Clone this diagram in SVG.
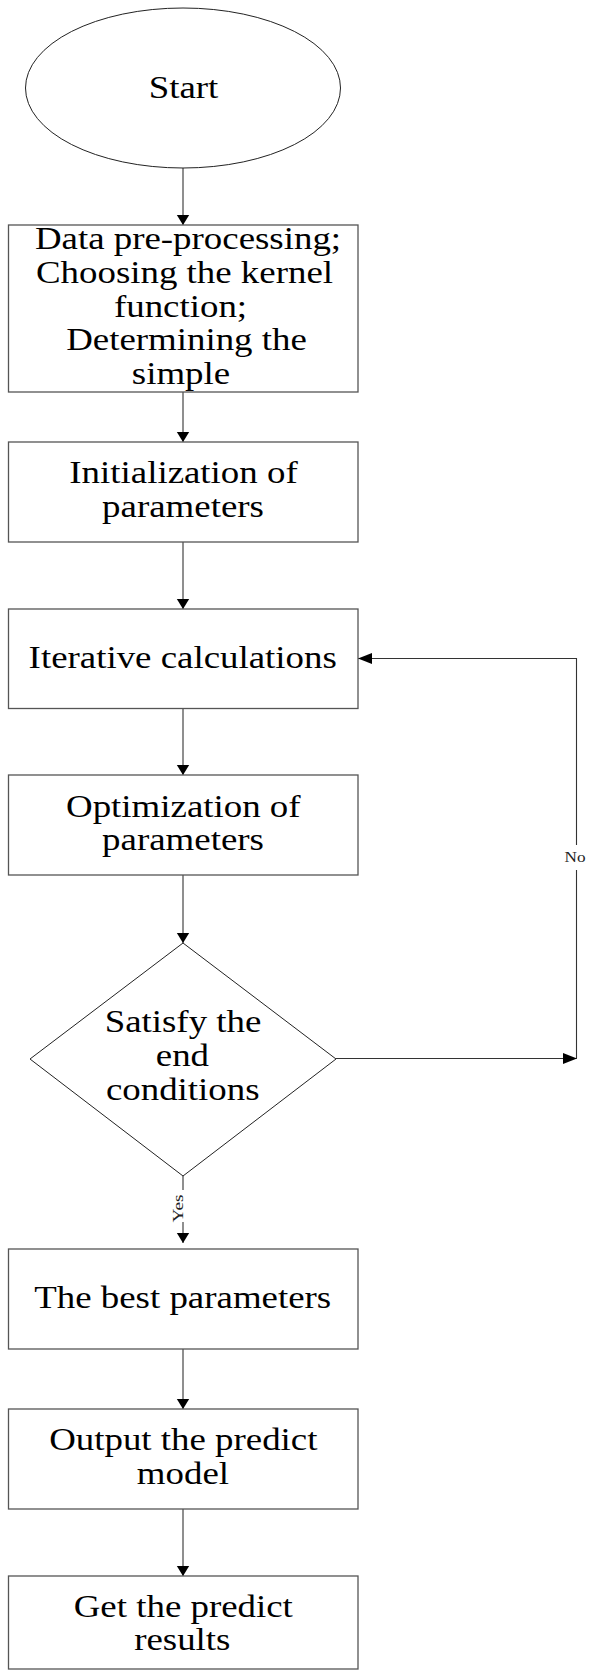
<svg xmlns="http://www.w3.org/2000/svg" width="590" height="1671" viewBox="0 0 590 1671">
<style>
.box{fill:#fff;stroke:#555;stroke-width:1.3}
.shape{fill:#fff;stroke:#222;stroke-width:1}
.t{font-family:"Liberation Serif","Times New Roman",serif;font-size:31px;fill:#000;text-anchor:middle}
.lbl{font-family:"Liberation Serif","Times New Roman",serif;font-size:15px;fill:#222;text-anchor:middle}
.c{fill:none;stroke:#333;stroke-width:1.1}
</style>
<defs>
<marker id="av" markerUnits="userSpaceOnUse" markerWidth="12" markerHeight="14" refX="10.5" refY="6.5" orient="auto">
<path d="M0,0 L10.5,6.5 L0,13 z" fill="#000"/>
</marker>
<marker id="ah" markerUnits="userSpaceOnUse" markerWidth="15" markerHeight="12" refX="14" refY="5.5" orient="auto">
<path d="M0,0 L14,5.5 L0,11 z" fill="#000"/>
</marker>
</defs>
<rect width="590" height="1671" fill="#fff"/>

<g id="connectors">
<path class="c" d="M183 168 V225" marker-end="url(#av)"/>
<path class="c" d="M183 392 V442" marker-end="url(#av)"/>
<path class="c" d="M183 542 V609" marker-end="url(#av)"/>
<path class="c" d="M183 708 V775" marker-end="url(#av)"/>
<path class="c" d="M183 875 V943" marker-end="url(#av)"/>
<path class="c" d="M183 1176 V1190"/>
<path class="c" d="M183 1222 V1243" marker-end="url(#av)"/>
<path class="c" d="M183 1349 V1409" marker-end="url(#av)"/>
<path class="c" d="M183 1509 V1576" marker-end="url(#av)"/>
<path class="c" d="M336 1058.5 H577" marker-end="url(#ah)"/>
<path class="c" d="M576.5 1058.5 V870"/>
<path class="c" d="M576.5 845 V658.5 H358" marker-end="url(#ah)"/>
<text class="lbl" transform="translate(182.5 1208.5) rotate(-90)" x="0" y="0" textLength="28" lengthAdjust="spacingAndGlyphs">Yes</text>
<text class="lbl" x="575" y="862" font-size="16" textLength="21" lengthAdjust="spacingAndGlyphs">No</text>
</g>

<g id="start">
<ellipse class="shape" cx="183" cy="88" rx="157.5" ry="80"/>
<text class="t" transform="translate(183.5 97.5) scale(1.19 1)" x="0" y="0">Start</text>
</g>

<g id="preprocess">
<rect class="box" x="8.5" y="225" width="349.5" height="167"/>
<text class="t" transform="translate(188 249) scale(1.19 1)" x="0" y="0">Data pre-processing;</text>
<text class="t" transform="translate(184.5 283) scale(1.19 1)" x="0" y="0">Choosing the kernel</text>
<text class="t" transform="translate(180.5 316.5) scale(1.19 1)" x="0" y="0">function;</text>
<text class="t" transform="translate(186.5 350) scale(1.19 1)" x="0" y="0">Determining the</text>
<text class="t" transform="translate(181 383.5) scale(1.19 1)" x="0" y="0">simple</text>
</g>

<g id="init">
<rect class="box" x="8.5" y="442" width="349.5" height="100"/>
<text class="t" transform="translate(183.5 483) scale(1.19 1)" x="0" y="0">Initialization of</text>
<text class="t" transform="translate(183 517) scale(1.19 1)" x="0" y="0">parameters</text>
</g>

<g id="iterative">
<rect class="box" x="8.5" y="609" width="349.5" height="99.5"/>
<text class="t" transform="translate(182.7 667.5) scale(1.19 1)" x="0" y="0">Iterative calculations</text>
</g>

<g id="optimization">
<rect class="box" x="8.5" y="775" width="349.5" height="100"/>
<text class="t" transform="translate(183.3 816.5) scale(1.19 1)" x="0" y="0">Optimization of</text>
<text class="t" transform="translate(183 850) scale(1.19 1)" x="0" y="0">parameters</text>
</g>

<g id="decision">
<polygon class="shape" points="183,943 336,1059 183,1176 30,1059"/>
<text class="t" transform="translate(183 1032) scale(1.19 1)" x="0" y="0">Satisfy the</text>
<text class="t" transform="translate(182.4 1066) scale(1.19 1)" x="0" y="0">end</text>
<text class="t" transform="translate(182.7 1099.5) scale(1.19 1)" x="0" y="0">conditions</text>
</g>

<g id="best">
<rect class="box" x="8.5" y="1249" width="349.5" height="100"/>
<text class="t" transform="translate(182.7 1308) scale(1.19 1)" x="0" y="0">The best parameters</text>
</g>

<g id="output">
<rect class="box" x="8.5" y="1409" width="349.5" height="100"/>
<text class="t" transform="translate(183.3 1450) scale(1.19 1)" x="0" y="0">Output the predict</text>
<text class="t" transform="translate(182.9 1483.5) scale(1.19 1)" x="0" y="0">model</text>
</g>

<g id="results">
<rect class="box" x="8.5" y="1576" width="349.5" height="93"/>
<text class="t" transform="translate(183.3 1616.5) scale(1.19 1)" x="0" y="0">Get the predict</text>
<text class="t" transform="translate(182.3 1650) scale(1.19 1)" x="0" y="0">results</text>
</g>
</svg>
